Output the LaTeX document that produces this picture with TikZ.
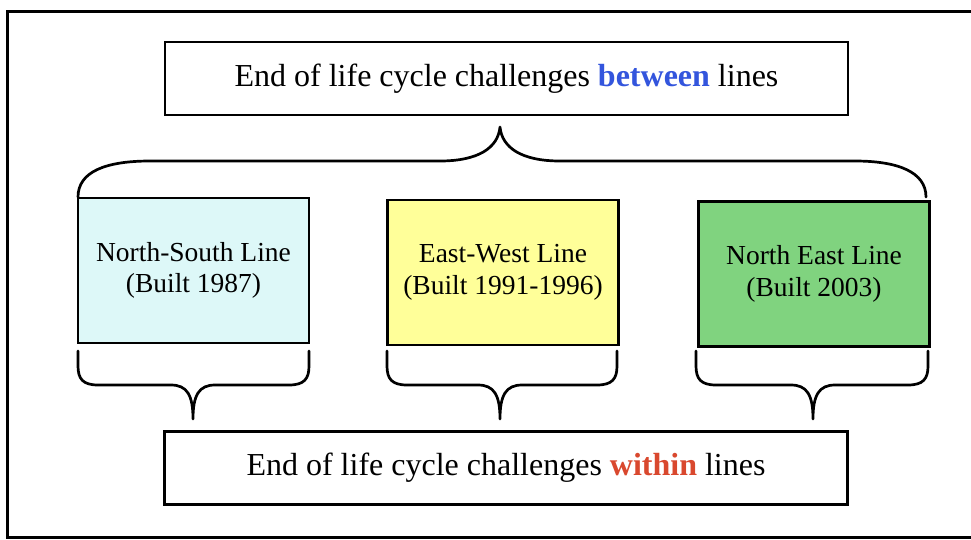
\documentclass[tikz,border=0pt]{standalone}
\usepackage{fontspec}
\setmainfont{Liberation Serif}
\definecolor{nscol}{HTML}{DDF8F8}
\definecolor{ewcol}{HTML}{FFFF99}
\definecolor{necol}{HTML}{80D37F}
\definecolor{betweencol}{HTML}{3355DD}
\definecolor{withincol}{HTML}{D9482E}
\tikzset{
  framebox/.style={draw=black, line width=2.9pt, inner sep=0pt},
  titlebox/.style={framebox, fill=white, minimum width=683pt, minimum height=73pt,
    font=\fontsize{32}{36}\selectfont},
  linebox/.style={framebox, minimum width=231pt, minimum height=145pt, align=center,
    font=\fontsize{27.5}{31.5}\selectfont},
  bracestyle/.style={draw=black, line width=2.7pt, line cap=round, line join=round},
}
\begin{document}
\begin{tikzpicture}[x=1pt, y=-1pt]
  \useasboundingbox (0,0) rectangle (971,539);
  \fill[white] (0,0) rectangle (971,539);
  \begin{scope}
    \clip (0,0) rectangle (971,539);
    % outer frame, right side runs past the edge
    \draw[line width=3pt] (990,11) -- (7,11) -- (7,537) -- (990,537);
  \end{scope}

  % headline boxes
  \node[titlebox] (between) at (506.5,78.5)
    {End of life cycle challenges \textcolor{betweencol}{\textbf{between}} lines};
  \node[titlebox] (within) at (506,468)
    {End of life cycle challenges \textcolor{withincol}{\textbf{within}} lines};

  % the three lines
  \node[linebox, fill=nscol] (ns) at (193.5,270.5) {North-South Line\\(Built 1987)};
  \node[linebox, fill=ewcol] (ew) at (503,272.5) {East-West Line\\(Built 1991-1996)};
  \node[linebox, fill=necol] (ne) at (814,274) {North East Line\\(Built 2003)};

  % brace grouping all three lines
  \draw[bracestyle] (78,197) .. controls (78,172) and (105,161) .. (150,161)
    -- (440,161) .. controls (478,161) and (498,148) .. (500,127)
    .. controls (502,148) and (522,161) .. (560,161)
    -- (855,161) .. controls (898,161) and (926,172) .. (926,197);

  % braces under each line
  \foreach \l/\m/\r in {78/193/309, 387/500/617, 696/813/928}{
    \draw[bracestyle] (\l,351) -- (\l,366) .. controls (\l,379) and (\l+5,385) .. (\l+20,385)
      -- (\m-22,385) .. controls (\m-6,385) and (\m,395) .. (\m,419)
      .. controls (\m,395) and (\m+6,385) .. (\m+22,385)
      -- (\r-20,385) .. controls (\r-5,385) and (\r,379) .. (\r,366) -- (\r,351);
  }
\end{tikzpicture}
\end{document}
